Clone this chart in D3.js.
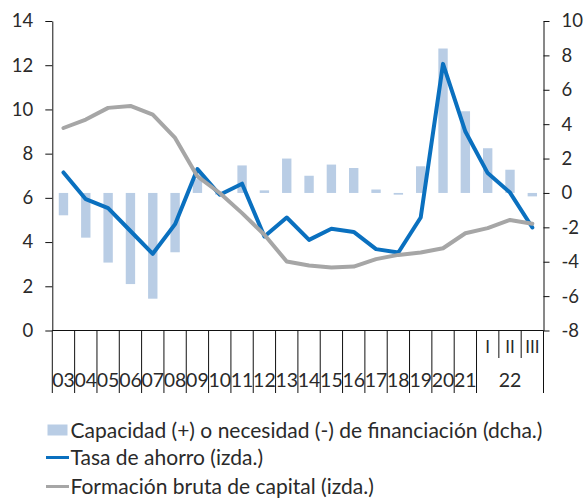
<!DOCTYPE html>
<html>
<head>
<meta charset="utf-8">
<script src="https://cdn.jsdelivr.net/npm/d3@7"></script>
<style>
  html, body { margin: 0; padding: 0; background: #fff; }
  svg { display: block; }
  text { font-family: Lato, "Open Sans", sans-serif; font-weight: 400; fill: #2a2a2a; }
</style>
</head>
<body>
<script>
// ---- Data ----
const categories = ["2003","2004","2005","2006","2007","2008","2009","2010","2011","2012",
  "2013","2014","2015","2016","2017","2018","2019","2020","2021","2022-I","2022-II","2022-III"];
const yearLabels = ["03","04","05","06","07","08","09","10","11","12","13","14","15","16",
  "17","18","19","20","21","22"];
const quarterLabels = ["I","II","III"];
// Capacidad (+) o necesidad (-) de financiación (dcha.)
const capacidad = [-1.3,-2.6,-4.05,-5.3,-6.15,-3.45,0.8,-0.1,1.6,0.15,2.0,1.0,1.65,1.45,0.2,-0.1,1.55,8.4,4.75,2.6,1.35,-0.2];
// Tasa de ahorro (izda.)
const tasaAhorro = [7.15,5.94,5.54,4.5,3.47,4.81,7.3,6.14,6.64,4.25,5.11,4.1,4.6,4.46,3.68,3.53,5.11,12.06,9.0,7.12,6.24,4.66];
// Formación bruta de capital (izda.)
const formacion = [9.16,9.54,10.07,10.16,9.76,8.71,6.97,6.22,5.31,4.33,3.12,2.94,2.85,2.89,3.23,3.42,3.53,3.72,4.4,4.63,5.0,4.83];
const leftTicks = [0,2,4,6,8,10,12,14];
const rightTicks = [-8,-6,-4,-2,0,2,4,6,8,10];
const legendLabels = ["Capacidad (+) o necesidad (-) de financiación (dcha.)",
  "Tasa de ahorro (izda.)", "Formación bruta de capital (izda.)"];

// ---- Layout ----
const W = 588, H = 499;
const mLeft = 52.3, mRight = 543.5, mTop = 21, mBottom = 330.5;
const colBar = "#b9cde5", colBlue = "#0a70bf", colGray = "#a6a6a6";

const svg = d3.select("body").append("svg").attr("width", W).attr("height", H);

const x = d3.scaleBand().domain(categories).range([mLeft, mRight]).padding(0);
const yL = d3.scaleLinear().domain([0, 14]).range([mBottom, mTop]);
const yR = d3.scaleLinear().domain([-8, 10]).range([mBottom, mTop]);
const bw = x.bandwidth();

// Bars
svg.append("g").selectAll("rect").data(capacidad).join("rect")
  .attr("x", (d, i) => x(categories[i]) + bw * 0.29)
  .attr("width", bw * 0.42)
  .attr("y", d => Math.min(yR(d), yR(0)))
  .attr("height", d => Math.abs(yR(d) - yR(0)))
  .attr("fill", colBar);

// Lines
const line = d3.line().x((d, i) => x(categories[i]) + bw / 2);
svg.append("path").datum(tasaAhorro)
  .attr("d", line.y(d => yL(d)))
  .attr("fill", "none").attr("stroke", colBlue).attr("stroke-width", 4)
  .attr("stroke-linejoin", "round").attr("stroke-linecap", "round");
svg.append("path").datum(formacion)
  .attr("d", line.y(d => yL(d)))
  .attr("fill", "none").attr("stroke", colGray).attr("stroke-width", 4)
  .attr("stroke-linejoin", "round").attr("stroke-linecap", "round");

// Axes
const gL = svg.append("g").attr("transform", `translate(${mLeft},0)`)
  .call(d3.axisLeft(yL).tickValues(leftTicks).tickSize(7).tickPadding(12).tickSizeOuter(0));
const gR = svg.append("g").attr("transform", `translate(${mRight},0)`)
  .call(d3.axisRight(yR).tickValues(rightTicks).tickSize(6).tickPadding(12).tickSizeOuter(0)
    .tickFormat(d3.format("d")));
[gL, gR].forEach(g => {
  g.selectAll("text").attr("font-size", 18.5).attr("fill", "#2a2a2a")
    .style("font-family", "Lato, 'Open Sans', sans-serif").style("font-weight", 400);
  g.selectAll("line, path").attr("stroke", "#111").attr("stroke-width", 1);
});
gR.selectAll(".tick text").text(d => d < 0 ? "-" + Math.abs(d) : d);

// X axis baseline
svg.append("line").attr("x1", mLeft).attr("x2", mRight).attr("y1", mBottom).attr("y2", mBottom)
  .attr("stroke", "#111").attr("stroke-width", 1);

// Separators
const nYears = yearLabels.length - 1; // full-year bands
const boundaries = d3.range(categories.length + 1);
svg.append("g").selectAll("line").data(boundaries).join("line")
  .attr("x1", i => i < categories.length ? x(categories[i]) : mRight)
  .attr("x2", i => i < categories.length ? x(categories[i]) : mRight)
  .attr("y1", mBottom)
  .attr("y2", i => (i > nYears && i < categories.length) ? 358 : 393)
  .attr("stroke", "#111").attr("stroke-width", 1);

// Year labels
const xLab = svg.append("g").attr("font-size", 19.5).attr("text-anchor", "middle");
yearLabels.forEach((lab, i) => {
  let cx;
  if (i < nYears) cx = x(categories[i]) + bw / 2;
  else cx = (x(categories[nYears]) + mRight) / 2;
  xLab.append("text").attr("x", cx).attr("y", 380).attr("dy", "0.36em").text(lab);
});
quarterLabels.forEach((lab, j) => {
  xLab.append("text").attr("x", x(categories[nYears + j]) + bw / 2).attr("y", 347)
    .attr("dy", "0.36em").attr("font-size", 17).text(lab);
});

// Legend
const leg = svg.append("g");
const rowsY = [430, 457.5, 486.5];
leg.append("rect").attr("x", 47.5).attr("y", rowsY[0] - 5.5).attr("width", 20).attr("height", 11)
  .attr("fill", colBar);
leg.append("line").attr("x1", 46).attr("x2", 69).attr("y1", rowsY[1]).attr("y2", rowsY[1])
  .attr("stroke", colBlue).attr("stroke-width", 3);
leg.append("line").attr("x1", 46).attr("x2", 69).attr("y1", rowsY[2]).attr("y2", rowsY[2])
  .attr("stroke", colGray).attr("stroke-width", 3);
legendLabels.forEach((t, i) => {
  leg.append("text").attr("x", 70.5).attr("y", rowsY[i]).attr("dy", "0.36em")
    .attr("font-size", 21).text(t);
});
</script>
</body>
</html>
